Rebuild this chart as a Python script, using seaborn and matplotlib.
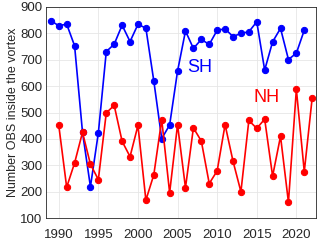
import numpy as np
import pandas as pd
import seaborn as sns
from matplotlib import pyplot as plt

# Data
sh_years = list(range(1989, 2022))
sh_obs = [848, 829, 835, 753, 425, 219, 423, 731, 759, 831, 769, 834, 820, 620, 401,
          453, 657, 809, 743, 777, 758, 812, 817, 788, 800, 806, 844, 661, 768, 819,
          701, 725, 812]
nh_years = list(range(1990, 2023))
nh_obs = [452, 217, 309, 425, 304, 246, 499, 527, 391, 333, 451, 168, 264, 473, 196,
          454, 215, 442, 392, 231, 279, 454, 316, 200, 470, 440, 475, 259, 410, 160,
          588, 276, 556]

sh_df = pd.DataFrame({'Year': sh_years, 'OBS': sh_obs})
nh_df = pd.DataFrame({'Year': nh_years, 'OBS': nh_obs})

sns.set_style('whitegrid')
plt.rcParams['font.family'] = ['Liberation Sans', 'DejaVu Sans']

fig = plt.figure(figsize=(3.2, 2.41), dpi=100)
ax = fig.add_axes([0.144, 0.095, 0.844, 0.876])

sns.lineplot(data=sh_df, x='Year', y='OBS', color='#0000ff', marker='o',
             markersize=4.5, markeredgecolor='#0000ff', linewidth=1.2, ax=ax)
sns.lineplot(data=nh_df, x='Year', y='OBS', color='#ff0000', marker='o',
             markersize=4.5, markeredgecolor='#ff0000', linewidth=1.2, ax=ax)

ax.text(2007.8, 671, 'SH', color='#0000ff', fontsize=13, ha='center', va='center')
ax.text(2016.2, 557, 'NH', color='#ff0000', fontsize=13, ha='center', va='center')

ax.set_xlim(1988.4, 2022.5)
ax.set_ylim(100, 900)
ax.set_xticks(range(1990, 2021, 5))
ax.set_yticks(range(100, 901, 100))
ax.set_xlabel('')
ax.set_ylabel('Number OBS inside the vortex', fontsize=9, color='#262626', labelpad=1)
ax.tick_params(labelsize=9.5, colors='#262626', direction='in', length=2)
ax.tick_params(axis='y', pad=2.5)
ax.tick_params(axis='x', pad=7.5)
ax.grid(color='#e6e6e6', linewidth=0.6)
for sp in ax.spines.values():
    sp.set_color('#262626')
    sp.set_linewidth(0.6)

plt.savefig('out.png', dpi=100)
